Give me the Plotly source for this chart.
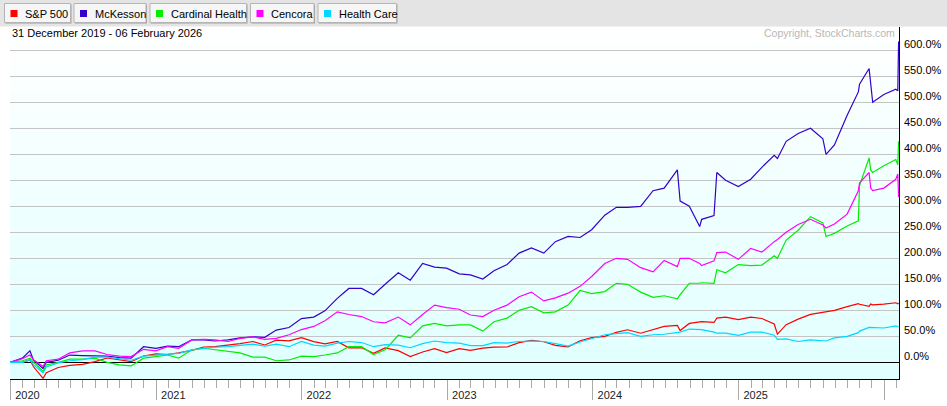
import plotly.graph_objects as go

# ---------------- data (percent change since 31 Dec 2019) ----------------
dates = [
    "2019-12-31", "2020-01-31", "2020-02-19", "2020-02-28", "2020-03-23", "2020-03-31", "2020-04-30",
    "2020-05-29", "2020-06-30", "2020-07-31", "2020-08-31", "2020-09-30", "2020-10-30", "2020-11-30", "2020-12-31",
    "2021-01-29", "2021-02-26", "2021-03-31", "2021-04-30", "2021-05-28", "2021-06-30",
    "2021-07-30", "2021-08-31", "2021-09-30", "2021-10-29", "2021-11-30", "2021-12-31",
    "2022-01-31", "2022-02-28", "2022-03-31", "2022-04-29", "2022-05-31", "2022-06-30",
    "2022-07-29", "2022-08-31", "2022-09-30", "2022-10-31", "2022-11-30", "2022-12-30",
    "2023-01-31", "2023-02-28", "2023-03-31", "2023-04-28", "2023-05-31", "2023-06-30",
    "2023-07-31", "2023-08-31", "2023-09-29", "2023-10-31", "2023-11-30", "2023-12-29",
    "2024-01-31", "2024-02-29", "2024-03-28", "2024-04-30", "2024-05-31", "2024-06-28", "2024-07-31",
    "2024-08-07", "2024-08-30", "2024-09-25", "2024-09-30", "2024-10-31", "2024-11-07", "2024-11-29", "2024-12-31",
    "2025-01-31", "2025-02-28", "2025-03-31", "2025-04-08", "2025-04-30", "2025-05-30", "2025-06-30", "2025-07-31",
    "2025-08-08", "2025-08-29", "2025-09-30", "2025-10-28", "2025-10-31", "2025-11-24", "2025-11-28", "2025-12-03",
    "2025-12-31",
    "2026-01-30", "2026-02-04", "2026-02-06",
]

sp500 = [
    0, -0.2, 4.8, -8.6, -30.8, -20.0, -9.9, -5.8, -4.0, 1.2, 8.3, 4.1, 1.2, 12.1, 16.3,
    15.0, 18.0, 23.0, 29.4, 30.1, 33.0, 36.0, 40.0, 33.3, 42.5, 41.4, 47.5,
    39.8, 35.4, 40.2, 27.9, 27.9, 17.2, 27.8, 22.4, 11.0, 19.8, 26.3, 18.8,
    26.2, 22.9, 27.2, 29.1, 29.4, 37.7, 42.0, 39.5, 32.7, 29.8, 41.4, 47.6,
    50.0, 57.7, 62.6, 55.9, 63.4, 69.0, 70.9, 61.0, 74.8, 77.5, 78.4, 76.6, 84.9, 86.7, 82.0,
    87.0, 84.3, 73.7, 54.2, 72.4, 83.0, 92.1, 96.2, 97.8, 100.0, 107.0, 113.0, 111.7, 107.5, 112.0, 110.5, 112.0,
    114.5, 112.5, 114.0,
]

mckesson = [
    0, 8, 22, 4, -12, 0, 4, 14, 13, 12, 12, 9, 8, 30, 27,
    31, 30, 43, 43, 41, 43, 47, 49, 48, 62, 67, 84,
    87, 99, 123, 142, 142, 130, 150, 172, 158, 190, 183, 181,
    170, 168, 160, 176, 188, 210, 220, 210, 232, 242, 240, 255,
    283, 298, 298, 300, 330, 335, 370, 310, 300, 261, 275, 282, 365, 350, 338,
    352, 375, 398, 392, 425, 440, 450, 430, 400, 418, 475, 520, 535, 565, 540, 500, 515,
    525, 522, 617,
]

cardinal_health = [
    0, 3, 8, 0, -17, -5, 0, 6, 6, 8, 0, -5, -7, 8, 11,
    14, 8, 24, 27, 24, 21, 18, 10, 10, 3, 4.5, 12,
    11, 14, 18, 30, 30, 15, 24, 52, 47, 70, 75, 70,
    72, 72, 60, 78, 85, 100, 107, 95, 97, 110, 138, 132,
    136, 152, 150, 135, 125, 128, 122, 130, 152, 152, 153, 152, 178, 172, 188,
    186, 187, 205, 200, 235, 254, 280, 268, 242, 248, 262, 272, 340, 393, 370, 365, 378,
    390, 380, 425,
]

cencora = [
    0, 7, 14, 5, -8, 3, 6, 18, 22, 22, 15, 12, 11, 25, 22,
    30, 27, 43, 44, 43, 40, 46, 49, 44, 46, 53, 63,
    69, 80, 97, 92, 88, 78, 76, 87, 72, 92, 110, 105,
    102, 91, 88, 100, 110, 126, 135, 118, 124, 133, 146, 165,
    190, 200, 198, 182, 174, 196, 184, 200, 200, 190, 186, 195, 211, 212, 198,
    219, 212, 232, 236, 250, 265, 275, 264, 258, 266, 285, 330, 345, 365, 335, 330, 335,
    352, 362, 318,
]

health_care = [
    0, 0, 5, -5, -20, -9, -1, 3, 5, 10, 10, 7, 4, 12, 14,
    16, 17, 24, 27, 29, 30, 33, 35, 31, 35, 30, 40,
    33, 31, 37, 40, 38, 30, 34, 33, 28, 36, 41, 38,
    37, 32, 32, 38, 37, 40, 41, 40, 36, 31, 39, 46,
    53, 55, 57, 50, 53, 54, 58, 58, 64, 63, 63, 58, 56, 56, 52,
    58, 58, 52, 44, 45, 40, 43, 42, 41, 47, 50, 57, 60, 67, 67, 66, 66,
    70, 69, 68,
]

series_names = ["S&P 500", "McKesson", "Cardinal Health", "Cencora", "Health Care"]
series_values = [sp500, mckesson, cardinal_health, cencora, health_care]
series_colors = ["#ff0000", "#3300cc", "#00ee00", "#ff00ff", "#00d8ff"]

y_tick_values = [0, 50, 100, 150, 200, 250, 300, 350, 400, 450, 500, 550, 600]
y_tick_labels = ["0.0%", "50.0%", "100.0%", "150.0%", "200.0%", "250.0%", "300.0%",
                 "350.0%", "400.0%", "450.0%", "500.0%", "550.0%", "600.0%"]

x_tick_values = ["2020-01-01", "2021-01-01", "2022-01-01", "2023-01-01", "2024-01-01",
                 "2025-01-01", "2026-01-01"]
x_tick_labels = ["2020", "2021", "2022", "2023", "2024", "2025", ""]

date_range_text = "31 December 2019 - 06 February 2026"
copyright_text = "Copyright, StockCharts.com"

# ---------------- geometry helpers (pixel -> paper) ----------------
W, H = 947, 406
ML, MR, MT, MB = 10, 48, 27, 27
PW, PH = W - ML - MR, H - MT - MB


def px(xp):
    return (xp - ML) / PW


def py(yp):
    return (H - MB - yp) / PH


fig = go.Figure()
for name, vals, col in zip(series_names, series_values, series_colors):
    fig.add_trace(go.Scatter(x=dates, y=vals, name=name, mode="lines",
                             line=dict(color=col, width=1.2), hoverinfo="skip"))

shapes = []
# gradient plot background (white at top -> light cyan at bottom)
n_bands = 44
for i in range(n_bands):
    frac_top = 1 - (i + 0.5) / n_bands
    r = round(255 - 31 * frac_top)
    shapes.append(dict(type="rect", xref="paper", yref="paper", x0=0, x1=1,
                       y0=i / n_bands, y1=(i + 1) / n_bands, layer="below",
                       line=dict(width=0), fillcolor=f"rgb({r},255,255)"))

# grey legend bar at the top
shapes.append(dict(type="rect", xref="paper", yref="paper", x0=px(0), x1=px(W),
                   y0=py(26.5), y1=py(0), line=dict(width=0), fillcolor="#e4e4e4", layer="above"))

annotations = []
buttons = [(4.5, 70.5), (74, 146), (150, 246.5), (250.5, 314), (318, 396.5)]
for (bx0, bx1), name, col in zip(buttons, series_names, series_colors):
    shapes.append(dict(type="rect", xref="paper", yref="paper", x0=px(bx0 + 1), x1=px(bx1 + 1),
                       y0=py(23.5), y1=py(4.5), line=dict(width=0), fillcolor="#a0a0a0", layer="above"))
    shapes.append(dict(type="rect", xref="paper", yref="paper", x0=px(bx0), x1=px(bx1),
                       y0=py(22.5), y1=py(3.5), line=dict(color="#b4b4b4", width=1),
                       fillcolor="#f6f6f6", layer="above"))
    shapes.append(dict(type="rect", xref="paper", yref="paper", x0=px(bx0 + 6), x1=px(bx0 + 13),
                       y0=py(17), y1=py(10), line=dict(width=0), fillcolor=col, layer="above"))
    annotations.append(dict(text=name, xref="paper", yref="paper", x=px(bx0 + 18.5), y=py(13.5),
                            xanchor="left", yanchor="middle", showarrow=False,
                            font=dict(size=11, color="black")))

annotations.append(dict(text=date_range_text, xref="paper", yref="paper", x=px(10), y=py(33),
                        xanchor="left", yanchor="middle", showarrow=False,
                        font=dict(size=11, color="black")))
annotations.append(dict(text=copyright_text, xref="paper", yref="paper", x=px(897), y=py(33),
                        xanchor="right", yanchor="middle", showarrow=False,
                        font=dict(size=10.5, color="#b8b8b8")))

# right-hand percentage labels, sitting just above each gridline
for val, lab in zip(y_tick_values, y_tick_labels):
    annotations.append(dict(text=lab, xref="paper", yref="y", x=1, y=val, xshift=3, yshift=6,
                            xanchor="left", yanchor="middle", showarrow=False,
                            font=dict(size=11, color="black")))

fig.update_layout(
    width=W, height=H, autosize=False,
    margin=dict(l=ML, r=MR, t=MT, b=MB, pad=0, autoexpand=False),
    paper_bgcolor="white", plot_bgcolor="white", showlegend=False,
    font=dict(family="Arial, 'Liberation Sans', sans-serif", size=11, color="black"),
    shapes=shapes, annotations=annotations,
    xaxis=dict(type="date", range=["2019-12-31", "2026-02-07"], showgrid=False, zeroline=False,
               showline=True, linecolor="black", linewidth=1, automargin=False,
               ticks="outside", ticklen=20, tickwidth=1, tickcolor="#aaaaaa",
               tickmode="array", tickvals=x_tick_values, ticktext=x_tick_labels,
               ticklabelshift=17, ticklabelstandoff=-14,
               tickfont=dict(size=11, color="#222222"),
               minor=dict(dtick="M1", tick0="2020-01-01", ticks="outside", ticklen=8,
                          tickcolor="#aaaaaa", showgrid=False),
               fixedrange=True),
    yaxis=dict(side="right", range=[-32.1, 644.8], autorange=False, tickmode="array",
               tickvals=y_tick_values, showticklabels=False,
               showgrid=True, gridcolor="#c4c4c4", gridwidth=1, automargin=False,
               zeroline=True, zerolinecolor="black", zerolinewidth=1,
               showline=True, linecolor="black", linewidth=1, ticks="",
               fixedrange=True),
)

fig.write_html("out.html", config={"displayModeBar": False},
               post_script="document.body.style.margin='0';document.body.style.overflow='hidden';")
